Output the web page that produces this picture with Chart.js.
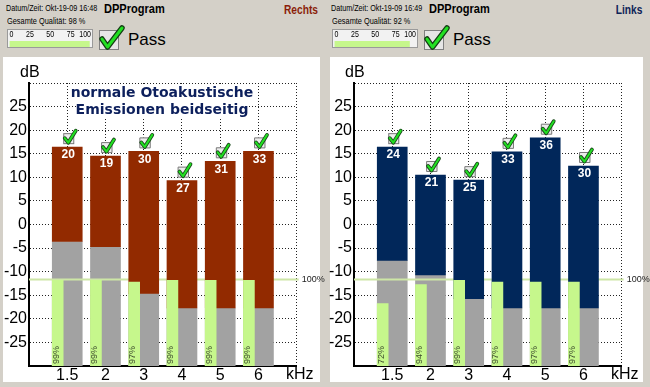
<!DOCTYPE html>
<html>
<head>
<meta charset="utf-8">
<script src="https://cdn.jsdelivr.net/npm/chart.js@4.4.1/dist/chart.umd.min.js"></script>
<style>
body{margin:0;width:650px;height:387px;background:#d4d0c8;position:relative;overflow:hidden;font-family:"Liberation Sans",Arial,sans-serif}
.panel{position:absolute;top:0;width:325px;height:387px}
.t{position:absolute;white-space:nowrap;color:#000}
.small{font-size:9px;line-height:9px;transform:scaleX(.8);transform-origin:0 0}
.prog{font-size:13px;line-height:13px;font-weight:bold;transform:scaleX(.85);transform-origin:0 0}
.side{font-size:12px;line-height:12px;font-weight:bold;transform:scaleX(.85);transform-origin:100% 0}
.pass{font-size:17px;line-height:17px}
.meter{position:absolute;left:7px;top:29px;width:84px;height:17px;border:1px solid #9a9a9a;background:#f2f2f2}
.meter canvas{position:absolute;left:0;top:0}
.white{position:absolute;top:57px;height:325px;background:#fff}
.main{position:absolute;left:0;top:57px}
.note{position:absolute;left:62px;top:84px;width:200px;text-align:center;font-family:"DejaVu Sans",Verdana,sans-serif;font-weight:bold;font-size:14px;line-height:17px;color:#0c1f5c}
.note span{background:#fff}
</style>
</head>
<body>

<div class="panel" style="left:0">
  <div class="white" style="left:3px;width:317px"></div>
  <div class="t small" style="left:6px;top:4px">Datum/Zeit: Okt-19-09 16:48</div>
  <div class="t prog" style="left:104px;top:2px">DPProgram</div>
  <div class="t side" style="right:7px;top:4px;color:#8b1e0a">Rechts</div>
  <div class="t small" style="left:7px;top:17px;transform:scaleX(.82)">Gesamte Qualität: 98 %</div>
  <div class="meter"><canvas id="qRe" width="84" height="17"></canvas></div>
  <svg class="t" style="left:99px;top:25px" width="26" height="27">
    <rect x="0.5" y="5.5" width="19" height="19" fill="#e6e6e6" stroke="#808080"/>
    <path d="M3 14 L8.5 22 L23 3" fill="none" stroke="#143c14" stroke-width="5.5" stroke-linecap="round" stroke-linejoin="round"/>
    <path d="M3 14 L8.5 22 L23 3" fill="none" stroke="#22e022" stroke-width="3" stroke-linecap="round" stroke-linejoin="round"/>
  </svg>
  <div class="t pass" style="left:128px;top:31px">Pass</div>
  <canvas class="main" id="chartRe" width="325" height="325"></canvas>
  <div class="note"><span>normale Otoakustische</span><br><span>Emissionen beidseitig</span></div>
</div>

<div class="panel" style="left:325px">
  <div class="white" style="left:5px;width:313px"></div>
  <div class="t small" style="left:6px;top:4px">Datum/Zeit: Okt-19-09 16:49</div>
  <div class="t prog" style="left:104px;top:2px">DPProgram</div>
  <div class="t side" style="right:8px;top:4px;color:#0d2357">Links</div>
  <div class="t small" style="left:7px;top:17px;transform:scaleX(.82)">Gesamte Qualität: 92 %</div>
  <div class="meter"><canvas id="qLi" width="84" height="17"></canvas></div>
  <svg class="t" style="left:99px;top:25px" width="26" height="27">
    <rect x="0.5" y="5.5" width="19" height="19" fill="#e6e6e6" stroke="#808080"/>
    <path d="M3 14 L8.5 22 L23 3" fill="none" stroke="#143c14" stroke-width="5.5" stroke-linecap="round" stroke-linejoin="round"/>
    <path d="M3 14 L8.5 22 L23 3" fill="none" stroke="#22e022" stroke-width="3" stroke-linecap="round" stroke-linejoin="round"/>
  </svg>
  <div class="t pass" style="left:128px;top:31px">Pass</div>
  <canvas class="main" id="chartLi" width="325" height="325"></canvas>
</div>

<script>
const FREQS = ['1.5', '2', '3', '4', '5', '6'];

// rechtes Ohr
const RE_DP = [16.4, 14.5, 15.5, 9.3, 13.4, 15.5];
const RE_NOISE = [-3.6, -4.7, -14.6, -17.7, -17.7, -17.7];
const RE_SNR = [20, 19, 30, 27, 31, 33];
const RE_REPRO = [99, 99, 97, 99, 99, 99];
const RE_QUALITY = 98;

// linkes Ohr
const LI_DP = [16.4, 10.5, 9.4, 15.4, 18.4, 12.4];
const LI_NOISE = [-7.6, -10.7, -15.7, -17.7, -17.7, -17.7];
const LI_SNR = [24, 21, 25, 33, 36, 30];
const LI_REPRO = [72, 94, 99, 97, 97, 97];
const LI_QUALITY = 92;

const QUALITY_TICKS = [0, 25, 50, 75, 100];

const DB_MIN = -30, DB_MAX = 30;
const REPRO_100_DB = -11.65;   // where the 100% line sits
const GREEN_SHIFT = -0.25;     // green bar sits on the left side of the slot

const FONT = '"Liberation Sans", Arial, sans-serif';
const GREEN = '#c6f78c';
const GRAY = '#a2a2a2';
Chart.defaults.font.family = FONT;

function drawCheck(ctx, cx, bottom) {
  const s = 11, x0 = cx - s / 2, y0 = bottom - s;
  ctx.fillStyle = '#ececec';
  ctx.fillRect(x0, y0, s, s);
  ctx.strokeStyle = '#7a7a7a';
  ctx.lineWidth = 1;
  ctx.strokeRect(x0 + 0.5, y0 + 0.5, s - 1, s - 1);
  ctx.lineCap = 'round';
  ctx.lineJoin = 'round';
  const path = () => {
    ctx.beginPath();
    ctx.moveTo(x0 + 1.5, y0 + 5);
    ctx.lineTo(x0 + 5, y0 + 9.5);
    ctx.lineTo(x0 + 12.5, y0 - 2.5);
  };
  path(); ctx.strokeStyle = '#1a4a1a'; ctx.lineWidth = 3.8; ctx.stroke();
  path(); ctx.strokeStyle = '#22e022'; ctx.lineWidth = 2; ctx.stroke();
}

const extras = {
  id: 'extras',
  afterDatasetDraw(chart, args) {
    if (args.index !== 2) return;
    // 100% Linie, ueber dem grauen Rauschen
    const {ctx, chartArea: a} = chart;
    const y = chart.scales.yq.getPixelForValue(100);
    ctx.save();
    ctx.strokeStyle = '#cde6a6';
    ctx.lineWidth = 2;
    ctx.beginPath();
    ctx.moveTo(a.left, y);
    ctx.lineTo(a.right + 2, y);
    ctx.stroke();
    ctx.fillStyle = '#222';
    ctx.font = '9px ' + FONT;
    ctx.textBaseline = 'middle';
    ctx.fillText('100%', a.right + 5, y);
    ctx.restore();
  },
  afterDatasetsDraw(chart) {
    const {ctx} = chart;
    const o = chart.options.plugins.extras;
    const main = chart.getDatasetMeta(1).data;
    const green = chart.getDatasetMeta(0).data;
    ctx.save();
    main.forEach((bar, i) => {
      const top = Math.min(bar.y, bar.base);
      ctx.fillStyle = '#fff';
      ctx.font = 'bold 12px ' + FONT;
      ctx.textAlign = 'center';
      ctx.textBaseline = 'middle';
      ctx.fillText(o.snr[i], bar.x + 1, top + 8);
      drawCheck(ctx, bar.x + 1.5, top - 3);
    });
    green.forEach((g, i) => {
      ctx.save();
      ctx.translate(g.x - 1.5, chart.chartArea.bottom - 2);
      ctx.rotate(-Math.PI / 2);
      ctx.fillStyle = '#3b4a2c';
      ctx.font = '9px ' + FONT;
      ctx.textAlign = 'left';
      ctx.textBaseline = 'middle';
      ctx.fillText(o.repro[i] + '%', 0, 0);
      ctx.restore();
    });
    ctx.restore();
  },
  afterDraw(chart) {
    const {ctx, chartArea: a} = chart;
    ctx.save();
    ctx.fillStyle = '#000';
    ctx.font = '16px ' + FONT;
    ctx.textBaseline = 'middle';
    ctx.textAlign = 'left';
    ctx.fillText('dB', 20, 16);
    ctx.textAlign = 'center';
    ctx.fillText('kHz', a.right + 3, a.bottom + 9);
    ctx.restore();
  }
};

function makeChart(id, dp, noise, snr, repro, color) {
  const bar = {grouped: false, barPercentage: 1, categoryPercentage: 1};
  return new Chart(document.getElementById(id), {
    type: 'bar',
    data: {
      datasets: [
        Object.assign({
          label: 'Reproduzierbarkeit',
          xAxisID: 'xq', yAxisID: 'yq',
          data: repro.map((p, i) => ({x: i + 1 + GREEN_SHIFT, y: p})),
          backgroundColor: GREEN, maxBarThickness: 11, order: 0
        }, bar),
        Object.assign({
          label: 'DP',
          data: dp.map((v, i) => ({x: i + 1, y: [noise[i], v]})),
          backgroundColor: color, maxBarThickness: 30, order: 1
        }, bar),
        Object.assign({
          label: 'Rauschen',
          data: noise.map((v, i) => ({x: i + 1, y: [DB_MIN, v]})),
          backgroundColor: GRAY, maxBarThickness: 30, order: 2
        }, bar)
      ]
    },
    options: {
      responsive: false,
      animation: false,
      layout: {padding: {top: 26, right: 28.3, left: 0, bottom: 0}},
      plugins: {
        legend: {display: false},
        tooltip: {enabled: false},
        extras: {snr: snr, repro: repro}
      },
      scales: {
        x: {
          type: 'linear', min: 0, max: FREQS.length + 1, offset: false,
          afterBuildTicks: s => { s.ticks = FREQS.map((f, i) => ({value: i + 1})).concat([{value: FREQS.length + 1}]); },
          afterFit: s => { s.height = 16; },
          ticks: {
            callback: v => FREQS[v - 1] || '',
            font: {size: 16}, color: '#000', padding: 0, maxRotation: 0, autoSkip: false
          },
          grid: {color: '#222', lineWidth: 1, drawTicks: false, offset: false},
          border: {color: '#000', width: 2, dash: [1, 2]}
        },
        xq: {type: 'linear', min: 0, max: FREQS.length + 1, offset: false, display: false},
        y: {
          min: DB_MIN, max: DB_MAX,
          afterFit: s => { s.width = 29; },
          ticks: {
            stepSize: 5,
            callback: v => (v <= DB_MIN || v >= DB_MAX) ? '' : v,
            font: {size: 16}, color: '#000', padding: 2
          },
          grid: {color: '#222', lineWidth: 1, drawTicks: false},
          border: {color: '#000', width: 2, dash: [1, 2]}
        },
        yq: {
          min: 0, max: 100 * (DB_MAX - DB_MIN) / (REPRO_100_DB - DB_MIN),
          display: false
        }
      }
    },
    plugins: [extras]
  });
}

// Skalenbeschriftung der Qualitaetsanzeige
const meterLabels = {
  id: 'meterLabels',
  afterDraw(chart) {
    const {ctx} = chart;
    const sx = chart.scales.x;
    ctx.save();
    ctx.fillStyle = '#000';
    ctx.font = '9px ' + FONT;
    ctx.textBaseline = 'middle';
    QUALITY_TICKS.forEach((t, i) => {
      ctx.save();
      ctx.translate(sx.getPixelForValue(t), 5);
      ctx.scale(0.78, 1);
      ctx.textAlign = i === 0 ? 'left' : (i === QUALITY_TICKS.length - 1 ? 'right' : 'center');
      ctx.fillText(t, 0, 0);
      ctx.restore();
    });
    ctx.restore();
  }
};

function makeMeter(id, q) {
  return new Chart(document.getElementById(id), {
    type: 'bar',
    data: {labels: [''], datasets: [{data: [q], backgroundColor: GREEN, barPercentage: 1, categoryPercentage: 1, maxBarThickness: 6}]},
    options: {
      indexAxis: 'y',
      responsive: false,
      animation: false,
      layout: {padding: {left: 1.5, right: 1, top: 11, bottom: 0}},
      plugins: {legend: {display: false}, tooltip: {enabled: false}},
      scales: {
        x: {min: 0, max: 100, display: false},
        y: {display: false}
      }
    },
    plugins: [meterLabels]
  });
}

makeMeter('qRe', RE_QUALITY);
makeMeter('qLi', LI_QUALITY);
makeChart('chartRe', RE_DP, RE_NOISE, RE_SNR, RE_REPRO, '#922a00');
makeChart('chartLi', LI_DP, LI_NOISE, LI_SNR, LI_REPRO, '#01275a');
</script>
</body>
</html>
